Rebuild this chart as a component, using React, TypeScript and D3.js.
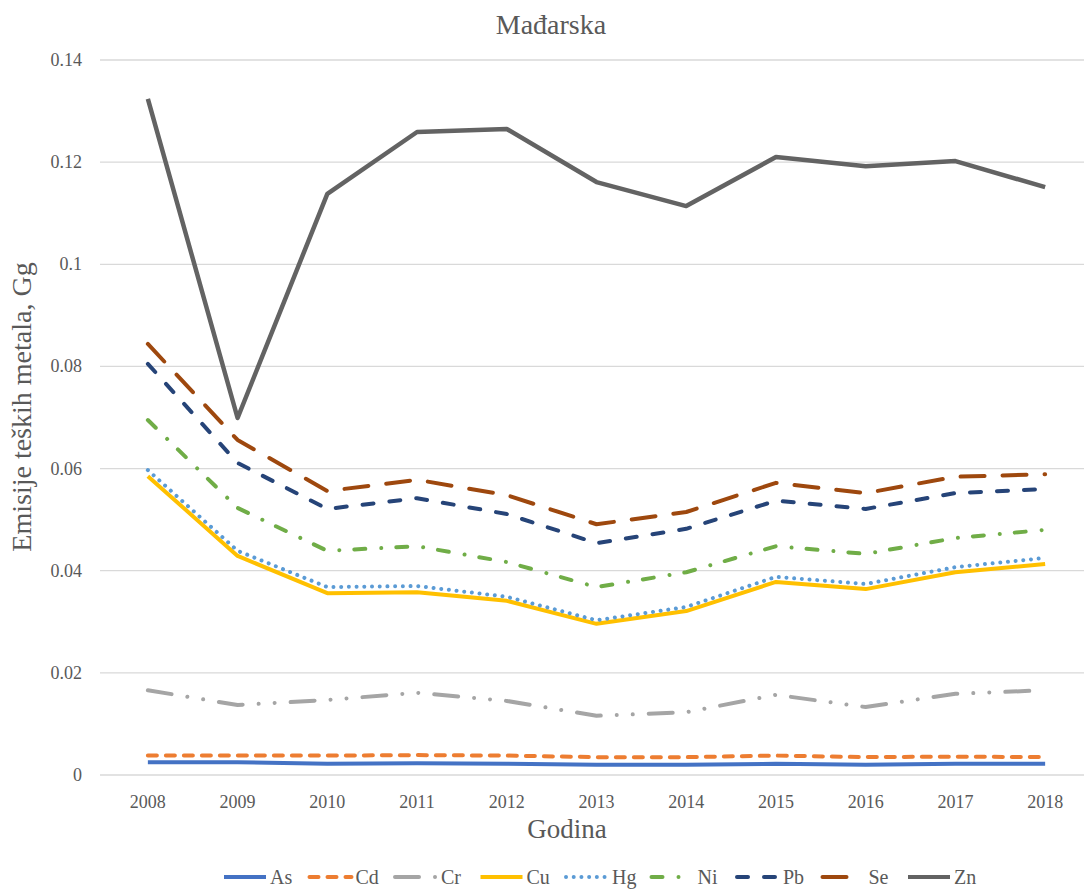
import React from "react"
import { scaleLinear, scalePoint, line } from "d3"

// Mađarska – emisije teških metala (Gg)
const years = ["2008", "2009", "2010", "2011", "2012", "2013", "2014", "2015", "2016", "2017", "2018"]
const yTicks = [0, 0.02, 0.04, 0.06, 0.08, 0.1, 0.12, 0.14]

const asVals = [0.0025, 0.0025, 0.0022, 0.0023, 0.0022, 0.002, 0.002, 0.0022, 0.002, 0.0022, 0.0022]
const cdVals = [0.0038, 0.0038, 0.0038, 0.0039, 0.0038, 0.0035, 0.0035, 0.0038, 0.0035, 0.0036, 0.0035]
const crVals = [0.0166, 0.0137, 0.0147, 0.0161, 0.0145, 0.0116, 0.0123, 0.0157, 0.0133, 0.0159, 0.0166]
const cuVals = [0.0585, 0.0429, 0.0356, 0.0358, 0.0341, 0.0296, 0.0321, 0.0378, 0.0364, 0.0397, 0.0413]
const hgVals = [0.0597, 0.0439, 0.0368, 0.037, 0.0349, 0.0303, 0.0329, 0.0388, 0.0374, 0.0407, 0.0425]
const niVals = [0.0695, 0.0523, 0.0439, 0.0448, 0.0417, 0.0368, 0.0397, 0.0448, 0.0433, 0.0464, 0.048]
const pbVals = [0.0805, 0.0611, 0.0521, 0.0542, 0.0511, 0.0454, 0.0482, 0.0537, 0.0521, 0.0552, 0.056]
const seVals = [0.0844, 0.0656, 0.0556, 0.0578, 0.0548, 0.0491, 0.0515, 0.0572, 0.0552, 0.0584, 0.0589]
const znVals = [0.1324, 0.0699, 0.1138, 0.1259, 0.1265, 0.1161, 0.1114, 0.121, 0.1192, 0.1202, 0.1151]

const series = [
  { name: "As", values: asVals, color: "#4472C4", dash: "none" },
  { name: "Cd", values: cdVals, color: "#ED7D31", dash: "9 9" },
  { name: "Cr", values: crVals, color: "#A5A5A5", dash: "24 16 0.01 16 0.01 16" },
  { name: "Cu", values: cuVals, color: "#FFC000", dash: "none" },
  { name: "Hg", values: hgVals, color: "#5B9BD5", dash: "0.01 7.7" },
  { name: "Ni", values: niVals, color: "#70AD47", dash: "11 16 0.01 15" },
  { name: "Pb", values: pbVals, color: "#264478", dash: "11 16" },
  { name: "Se", values: seVals, color: "#9E480E", dash: "24 18" },
  { name: "Zn", values: znVals, color: "#636363", dash: "none" }
]

const font = '"Liberation Serif", "Times New Roman", Times, serif'

export default function App() {
  const W = 1084
  const H = 890
  const left = 103
  const right = 1090
  const top = 60
  const bottom = 775

  const x = scalePoint<string>().domain(years).range([left, right]).padding(0.5)
  const y = scaleLinear().domain([0, 0.14]).range([bottom, top])

  const path = line<number>()
    .x((d, i) => x(years[i]) as number)
    .y(d => y(d))

  return (
    <svg width={W} height={H} style={{ position: "absolute", left: 0, top: 0, background: "#fff", fontFamily: font }}>
      <text x={551} y={34} textAnchor="middle" fontSize={28} fill="#595959">Mađarska</text>

      {yTicks.map(t => (
        <g key={t}>
          <line x1={left - 3} x2={right} y1={y(t)} y2={y(t)} stroke="#d9d9d9" strokeWidth={1.3} />
          <text x={82} y={y(t) + 6} textAnchor="end" fontSize={18} fill="#595959">{String(t)}</text>
        </g>
      ))}

      {years.map(yr => (
        <text key={yr} x={x(yr)} y={808} textAnchor="middle" fontSize={18} fill="#595959">{yr}</text>
      ))}

      <text x={567} y={838} textAnchor="middle" fontSize={27} fill="#595959">Godina</text>
      <text transform={`translate(31,407) rotate(-90)`} textAnchor="middle" fontSize={28} fill="#595959">
        Emisije teških metala, Gg
      </text>

      {series.map(s => (
        <path
          key={s.name}
          d={path(s.values) || ""}
          fill="none"
          stroke={s.color}
          strokeWidth={s.name === "Zn" ? 4.5 : 4}
          strokeDasharray={s.dash}
          strokeLinecap={s.dash === "none" ? "butt" : "round"}
          strokeLinejoin="round"
        />
      ))}

      {series.map((s, i) => {
        const x0 = 222 + i * 85.5
        return (
          <g key={s.name}>
            <line x1={x0 + 2} x2={x0 + 44} y1={877} y2={877} stroke={s.color} strokeWidth={4}
              strokeDasharray={s.dash} strokeLinecap={s.dash === "none" ? "butt" : "round"} />
            <text x={x0 + 48} y={884} fontSize={20} fill="#595959">{s.name}</text>
          </g>
        )
      })}
    </svg>
  )
}
